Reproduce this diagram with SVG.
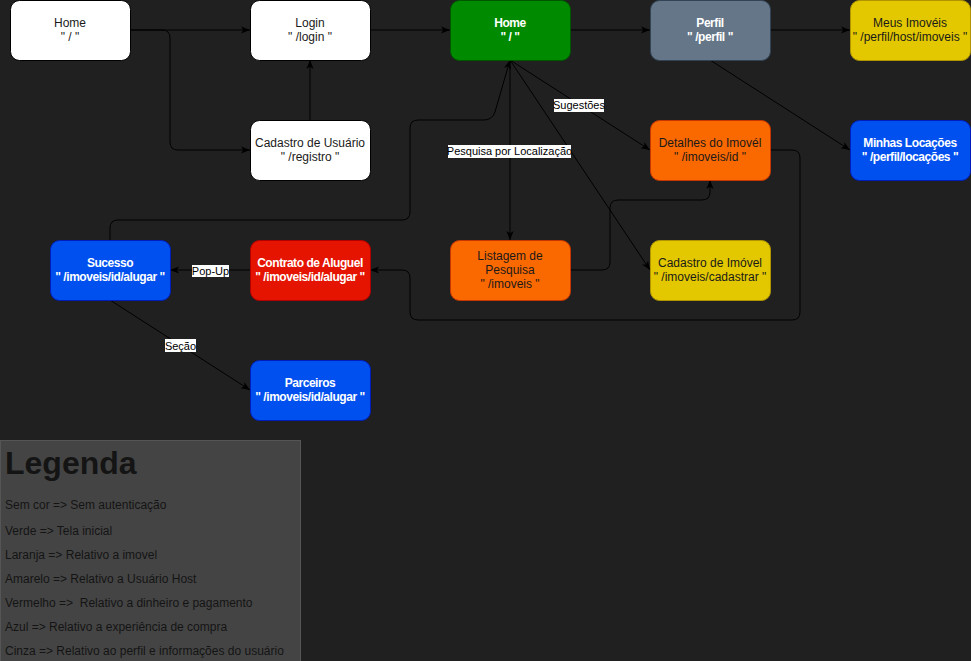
<svg xmlns="http://www.w3.org/2000/svg" width="971" height="661" viewBox="0 0 971 661">
<defs>
<marker id="arr" viewBox="0 0 10 10" refX="10" refY="5" markerWidth="9" markerHeight="9" markerUnits="userSpaceOnUse" orient="auto">
<path d="M0,1 L10,5 L0,9 L2.5,5 Z" fill="#000"/>
</marker>
<style>
text{font-family:"Liberation Sans",Arial,sans-serif;font-size:12px;text-anchor:middle;}
.n rect{stroke-width:1;}
.w rect{fill:#ffffff;stroke:#000000;}
.w text{fill:#1a1a1a;}
.g rect{fill:#008a00;stroke:#005700;}
.gr rect{fill:#647687;stroke:#314354;}
.y rect{fill:#e3c800;stroke:#b09500;}
.o rect{fill:#fa6800;stroke:#c73500;}
.b rect{fill:#0050ef;stroke:#001dbc;}
.r rect{fill:#e51400;stroke:#b20000;}
.dk text{fill:#1a1a1a;}
.lt text{fill:#ffffff;font-weight:bold;letter-spacing:-0.45px;}
.e path{fill:none;stroke:#000;stroke-width:1;marker-end:url(#arr);}
.lbl rect{fill:#ffffff;}
.lbl text{font-size:11px;fill:#000;}
.leg text{text-anchor:start;fill:#141414;}
</style>
</defs>
<rect x="0" y="0" width="971" height="661" fill="#202020"/>

<g id="connectors" class="e">
<path d="M130,30 L250,30"/>
<path d="M130,30 L162,30 Q170,30 170,38 L170,142 Q170,150 178,150 L250,150"/>
<path d="M310,120 L310,60"/>
<path d="M370,30 L450,30"/>
<path d="M570,30 L650,30"/>
<path d="M770,30 L850,30"/>
<path d="M710,60 L850,150"/>
<path d="M510,60 L650,150"/>
<path d="M510,60 L510,240"/>
<path d="M510,60 L650,270"/>
<path d="M110,240 L110,228 Q110,220 118,220 L402,220 Q410,220 410,212 L410,128 Q410,120 418,120 L484,120 Q492,120 495,112 L510,60"/>
<path d="M570,270 L602,270 Q610,270 610,262 L610,208 Q610,200 618,200 L702,200 Q710,200 710,192 L710,180"/>
<path d="M770,150 L792,150 Q800,150 800,158 L800,312 Q800,320 792,320 L418,320 Q410,320 410,312 L410,278 Q410,270 402,270 L370,270"/>
<path d="M250,270 L170,270"/>
<path d="M110,300 L250,390"/>
<g class="lbl">
<rect x="554" y="99" width="50" height="13"/><text x="579" y="109">Sugestões</text>
<rect x="448" y="145" width="123" height="13"/><text x="509.5" y="155">Pesquisa por Localização</text>
<rect x="192" y="265" width="37" height="12"/><text x="210.5" y="274.5">Pop-Up</text>
<rect x="165" y="339" width="31" height="13"/><text x="180.5" y="349.5">Seção</text>
</g>
</g>

<g id="home-public" class="n w"><rect x="10.5" y="0.5" width="120" height="60" rx="9"/><text x="70" y="27">Home</text><text x="70" y="41">" / "</text></g>
<g id="login" class="n w"><rect x="250.5" y="0.5" width="120" height="60" rx="9"/><text x="310" y="27">Login</text><text x="310" y="41">" /login "</text></g>
<g id="cadastro-usuario" class="n w"><rect x="250.5" y="120.5" width="120" height="60" rx="9"/><text x="310" y="147">Cadastro de Usuário</text><text x="310" y="161">" /registro "</text></g>
<g id="home" class="n g lt"><rect x="450.5" y="0.5" width="120" height="60" rx="9"/><text x="510" y="27">Home</text><text x="510" y="41">" / "</text></g>
<g id="perfil" class="n gr lt"><rect x="650.5" y="0.5" width="120" height="60" rx="9"/><text x="710" y="27">Perfil</text><text x="710" y="41">" /perfil "</text></g>
<g id="meus-imoveis" class="n y dk"><rect x="850.5" y="0.5" width="120" height="60" rx="9"/><text x="910" y="27">Meus Imovéis</text><text x="910" y="41">" /perfil/host/imoveis "</text></g>
<g id="detalhes" class="n o dk"><rect x="650.5" y="120.5" width="120" height="60" rx="9"/><text x="710" y="147">Detalhes do Imovél</text><text x="710" y="161">" /imoveis/id "</text></g>
<g id="minhas-locacoes" class="n b lt"><rect x="850.5" y="120.5" width="120" height="60" rx="9"/><text x="910" y="147">Minhas Locações</text><text x="910" y="161">" /perfil/locações "</text></g>
<g id="listagem" class="n o dk"><rect x="450.5" y="240.5" width="120" height="60" rx="9"/><text x="510" y="260">Listagem de</text><text x="510" y="274">Pesquisa</text><text x="510" y="288">" /imoveis "</text></g>
<g id="cadastro-imovel" class="n y dk"><rect x="650.5" y="240.5" width="120" height="60" rx="9"/><text x="710" y="267">Cadastro de Imóvel</text><text x="710" y="281">" /imoveis/cadastrar "</text></g>
<g id="sucesso" class="n b lt"><rect x="50.5" y="240.5" width="120" height="60" rx="9"/><text x="110" y="267">Sucesso</text><text x="110" y="281">" /imoveis/id/alugar "</text></g>
<g id="contrato" class="n r lt"><rect x="250.5" y="240.5" width="120" height="60" rx="9"/><text x="310" y="267">Contrato de Aluguel</text><text x="310" y="281">" /imoveis/id/alugar "</text></g>
<g id="parceiros" class="n b lt"><rect x="250.5" y="360.5" width="120" height="60" rx="9"/><text x="310" y="387">Parceiros</text><text x="310" y="401">" /imoveis/id/alugar "</text></g>

<g id="legenda" class="leg">
<rect x="0.5" y="440.5" width="300" height="225" fill="#444444" stroke="#555555"/>
<text x="5" y="474" style="font-size:32px;font-weight:bold;">Legenda</text>
<text x="5" y="509">Sem cor =&gt; Sem autenticação</text>
<text x="5" y="535">Verde =&gt; Tela inicial</text>
<text x="5" y="559">Laranja =&gt; Relativo a imovel</text>
<text x="5" y="583">Amarelo =&gt; Relativo a Usuário Host</text>
<text x="5" y="607" xml:space="preserve">Vermelho =&gt;  Relativo a dinheiro e pagamento</text>
<text x="5" y="631">Azul =&gt; Relativo a experiência de compra</text>
<text x="5" y="655">Cinza =&gt; Relativo ao perfil e informações do usuário</text>
</g>
</svg>
